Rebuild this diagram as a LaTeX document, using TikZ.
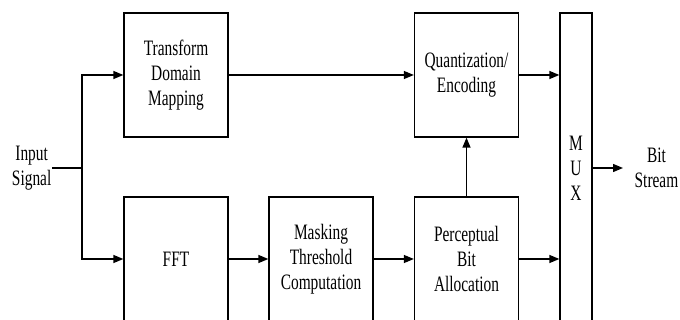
\documentclass[tikz,border=0pt]{standalone}
\usepackage{fontspec}
\setmainfont{Liberation Serif}[FakeStretch=0.7]
\usetikzlibrary{arrows.meta}
\begin{document}
\begin{tikzpicture}[x=1pt,y=-1pt,
  line width=1.3pt,
  every node/.style={font=\fontsize{22}{25}\selectfont, align=center, inner sep=0pt},
  blk/.style={draw, minimum width=104pt, minimum height=124pt},
  muxbox/.style={draw, minimum width=32pt, minimum height=310pt},
  arr/.style={-{Triangle[length=10pt,width=8pt]}}]
\useasboundingbox (0,0) rectangle (680,320);
\clip (0,0) rectangle (680,320);
\node[blk] (tdm) at (176,75) {Transform\\Domain\\Mapping};
\node[blk] (quant) at (466.5,75) {Quantization/\\Encoding};
\node[blk] (fft) at (176,259) {FFT};
\node[blk] (mask) at (321,259) {Masking\\Threshold\\Computation};
\node[blk] (perc) at (466.5,259) {Perceptual\\Bit\\Allocation};
\node[muxbox] (mux) at (576,168) {M\\U\\X};
\node[anchor=east] (in) at (52,168) {Input\\Signal};
\node[anchor=west] (out) at (634,168) {Bit\\Stream};
\coordinate (jn) at (82,168);
\draw (in.east) -- (jn);
\draw[arr] (jn) |- (tdm.west);
\draw[arr] (jn) |- (fft.west);
\draw[arr] (tdm.east) -- (quant.west);
\draw[arr] (quant.east) -- (quant.east -| mux.west);
\draw[arr] (fft.east) -- (mask.west);
\draw[arr] (mask.east) -- (perc.west);
\draw[arr] (perc.east) -- (perc.east -| mux.west);
\draw[arr] (perc.north) -- (quant.south);
\draw[arr] (mux.east |- out.west) -- ([xshift=-11pt]out.west);
\end{tikzpicture}
\end{document}
